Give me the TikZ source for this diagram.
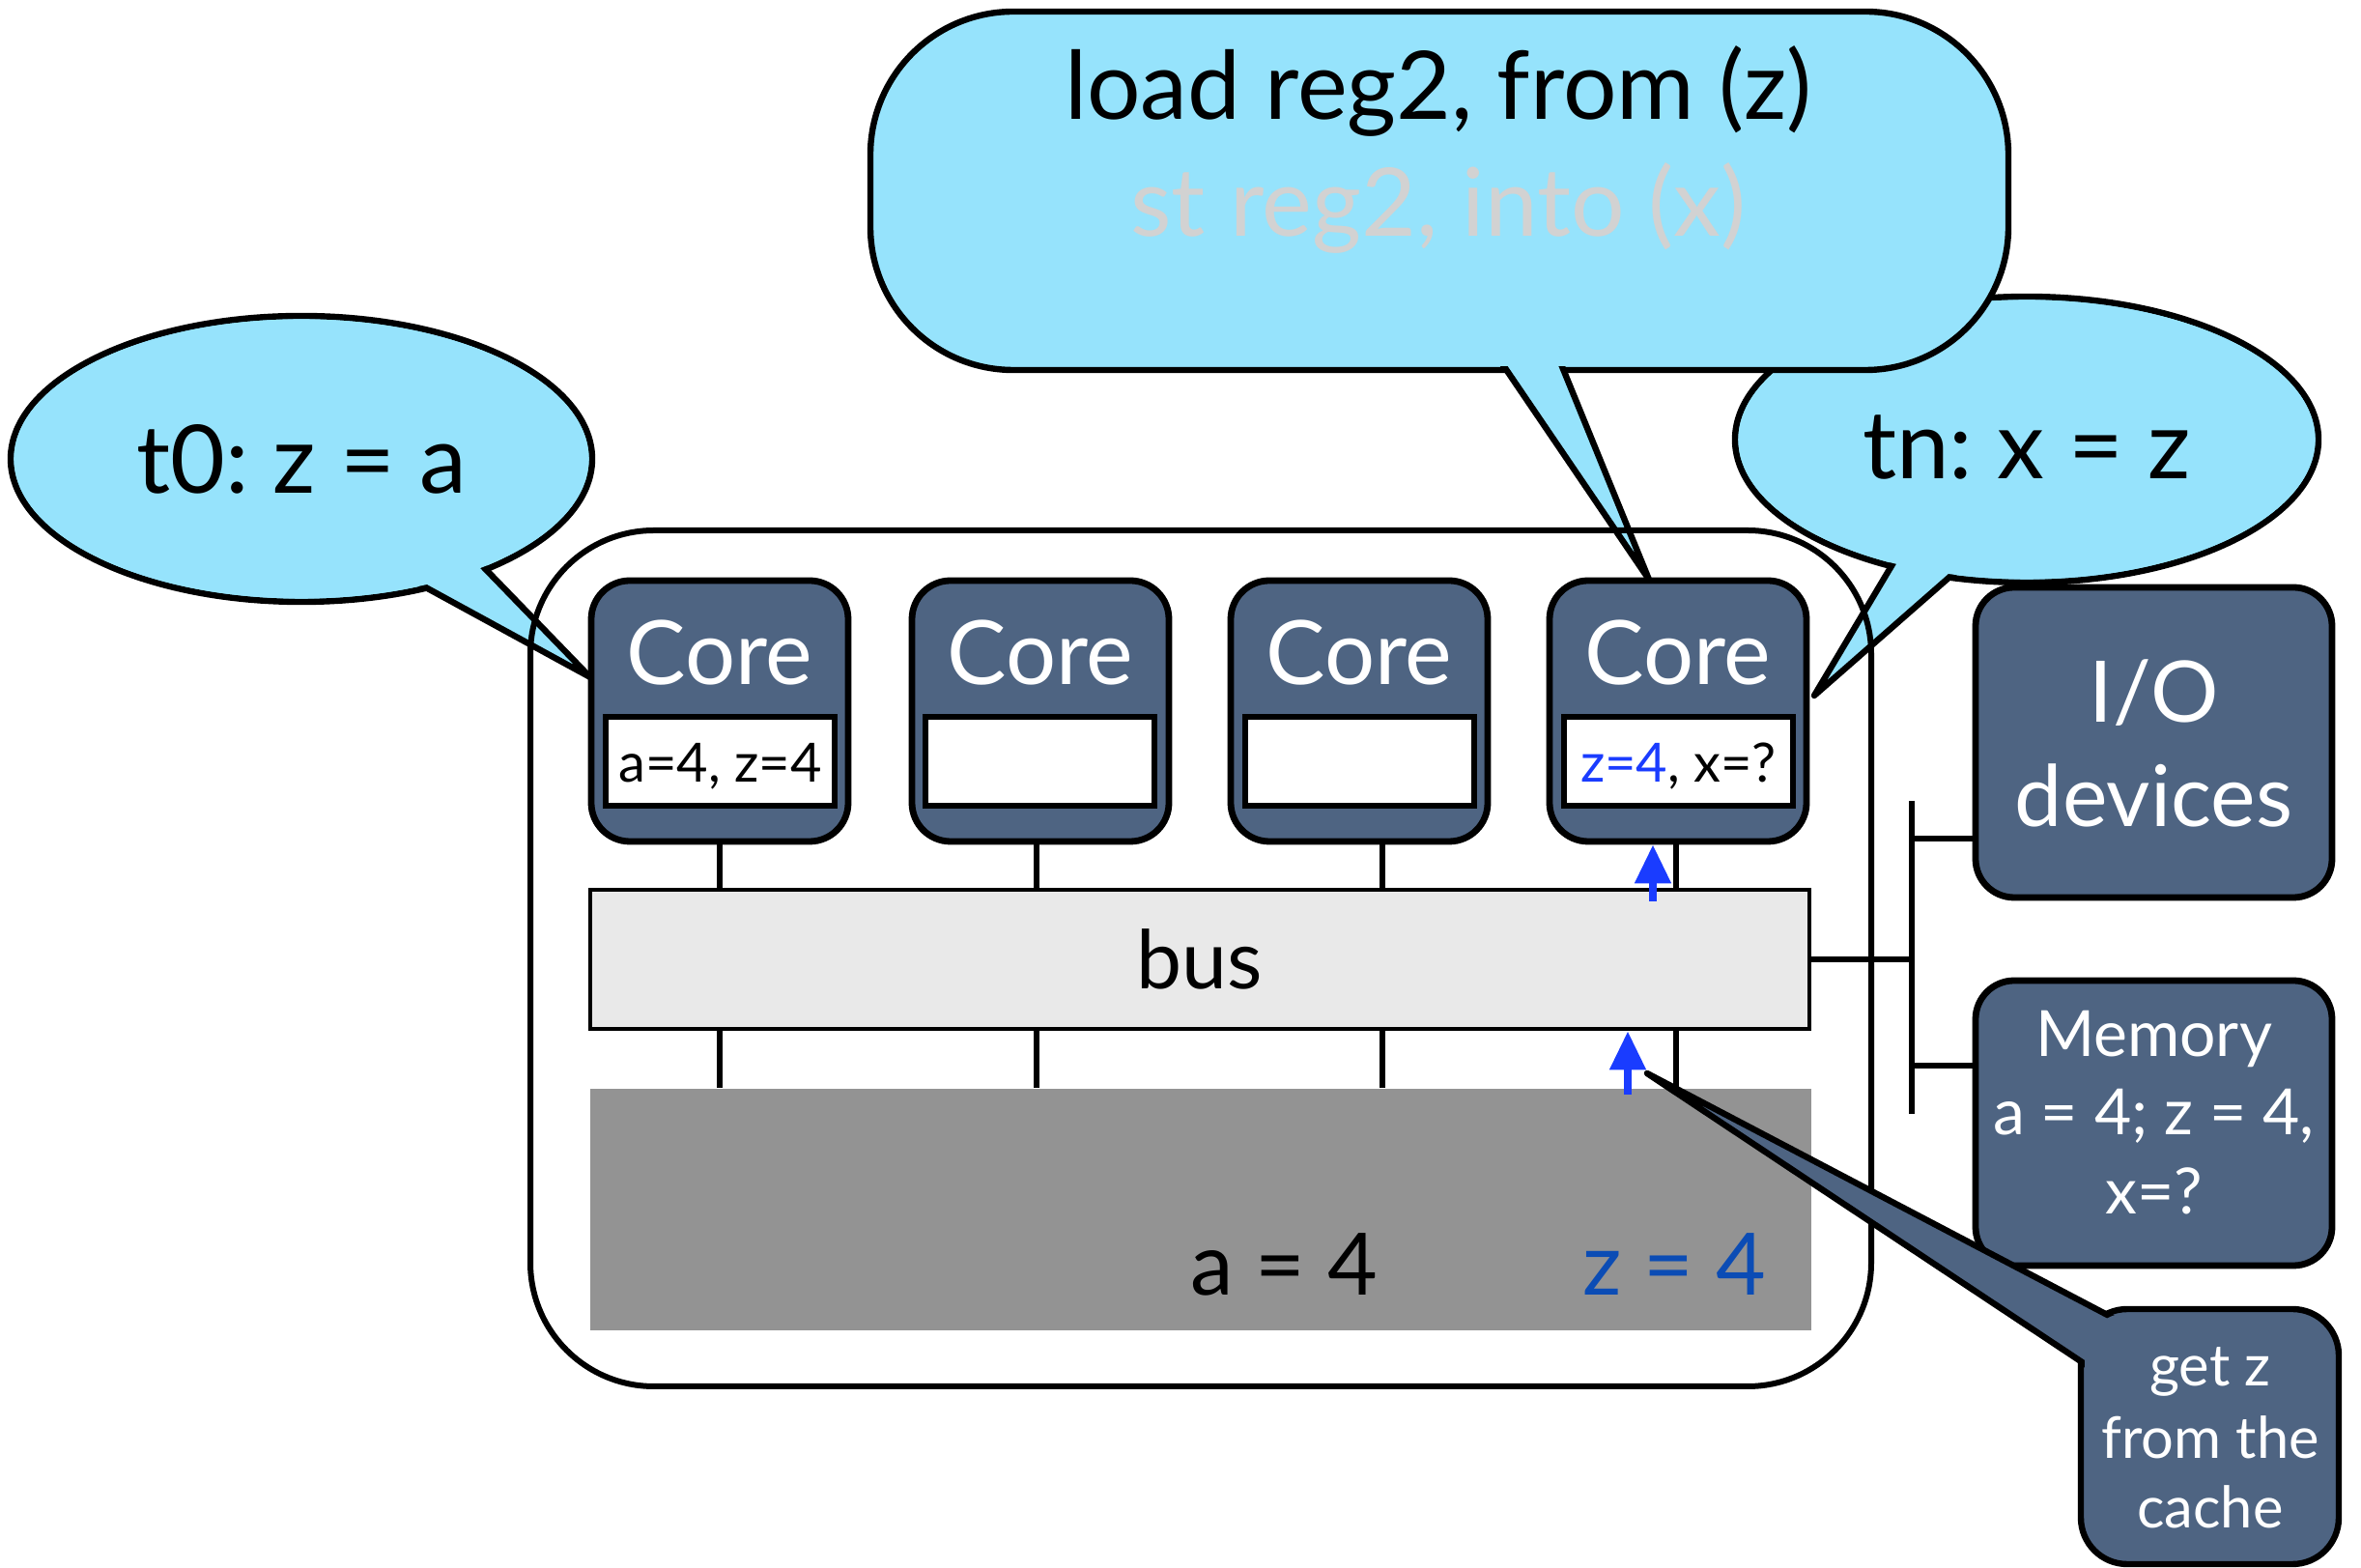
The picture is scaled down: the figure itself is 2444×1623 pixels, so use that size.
\documentclass[tikz,border=0pt]{standalone}
\usepackage{fontspec}
\setmainfont{Lato}
\usetikzlibrary{arrows.meta}
\definecolor{bubble}{HTML}{96E3FC}
\definecolor{slate}{HTML}{4E6482}
\definecolor{busgray}{HTML}{E9E9E9}
\definecolor{cachegray}{HTML}{939393}
\definecolor{ghost}{HTML}{D2D2D2}
\definecolor{hotblue}{HTML}{1A3CFF}
\definecolor{deepblue}{HTML}{0B4CB5}
\newcommand\fsz[2]{\fontsize{#1}{#2}\selectfont}

\begin{document}
\begin{tikzpicture}[x=0.25pt,y=-0.25pt,
  edge/.style={draw=black, line width=1.6pt, line join=round},
  slatebox/.style={draw=black, line width=1.7pt, fill=slate, rounded corners=10pt, inner sep=0pt},
  corebox/.style={slatebox, minimum width=66.5pt, minimum height=67.5pt},
  regbox/.style={draw=black, line width=1.5pt, fill=white, minimum width=59.25pt, minimum height=23pt, inner sep=0pt},
  regtext/.style={font=\fsz{14pt}{17pt}, anchor=base, inner sep=0pt},
  coretext/.style={font=\fsz{23pt}{28pt}, text=white, anchor=base, inner sep=0pt},
  iotext/.style={font=\fsz{22pt}{27pt}, text=white, anchor=base, inner sep=0pt},
  memtext/.style={font=\fsz{16.5pt}{20pt}, text=white, anchor=base, inner sep=0pt},
  notetext/.style={font=\fsz{14.9pt}{18pt}, text=white, anchor=base, inner sep=0pt},
  wire/.style={draw=black, line width=1.6pt},
  bluearrow/.style={draw=hotblue, line width=2pt, -{Triangle[width=9pt,length=10pt]}},
  bigtext/.style={font=\fsz{24.5pt}{30pt}, anchor=base, inner sep=0pt},
]
\useasboundingbox (0,0) rectangle (2444,1623);

% ---- speech bubble: tn
\draw[edge, fill=bubble] (2098,455) ellipse [x radius=75.5pt, y radius=37pt];
\draw[edge, fill=bubble] (1968,569) -- (1878,720) -- (2039,579);
\fill[bubble] (2098,455) ellipse [x radius=74.6pt, y radius=36.1pt];
\node[bigtext] (tn) at (2098,496) {tn:\kern-2pt{} x = z};

% ---- speech bubble: instructions
\draw[edge, fill=bubble, rounded corners=37pt] (901,12) rectangle (2079,383);
\draw[edge, fill=bubble] (1537,350) -- (1707,600) -- (1605,350);
\fill[bubble, rounded corners=36pt] (905,16) rectangle (2075,379);
\node[bigtext] (ld1) at (1489,124) {load reg2, from (z)};
\node[bigtext, text=ghost] (ld2) at (1489,245) {st reg2, into (x)};

% ---- speech bubble: t0
\draw[edge, fill=bubble] (312,475) ellipse [x radius=75.25pt, y radius=37pt];
\draw[edge, fill=bubble] (415,594) -- (611,701) -- (486,572);
\fill[bubble] (312,475) ellipse [x radius=74.35pt, y radius=36.1pt];
\node[bigtext] (t0) at (312,511) {t0:\kern-2pt{} z = a};

% ---- chip outline
\draw[line width=1.5pt, rounded corners=32pt] (549,549) rectangle (1937,1435);

% ---- shared cache
\node[fill=cachegray, minimum width=316pt, minimum height=62.5pt, inner sep=0pt] (cache) at (1243,1252) {};
\node[font=\fsz{22.3pt}{27pt}, anchor=base, inner sep=0pt] (ca) at (1329,1341) {a = 4};
\node[font=\fsz{22.3pt}{27pt}, anchor=base, inner sep=0pt, text=deepblue] (cz) at (1733,1341) {z = 4};

% ---- bus
\node[draw=black, line width=1.2pt, fill=busgray, minimum width=315.5pt, minimum height=36pt, inner sep=0pt] (bus) at (1242,993) {};
\node[font=\fsz{21pt}{25pt}, anchor=base, inner sep=0pt] (bustext) at (1242,1024) {bus};

% ---- cores
\node[corebox] (core1) at (745,736) {};
\node[corebox] (core2) at (1077,736) {};
\node[corebox] (core3) at (1407,736) {};
\node[corebox] (core4) at (1737,736) {};
\node[coretext] (c1) at (745,709) {Core};
\node[coretext] (c2) at (1077,709) {Core};
\node[coretext] (c3) at (1407,709) {Core};
\node[coretext] (c4) at (1737,709) {Core};
\node[regbox] (r1) at (745.5,788) {};
\node[regbox] (r2) at (1076.5,788) {};
\node[regbox] (r3) at (1407,788) {};
\node[regbox] (r4) at (1737.5,788) {};
\node[regtext] (r1t) at (745.5,810) {a=4, z=4};
\node[regtext] (r4t) at (1737.5,810) {\textcolor{hotblue}{z=4}, x=?};

% ---- wires between cores, bus and cache
\coordinate (l1) at (745,0);
\coordinate (l2) at (1073,0);
\coordinate (l3) at (1431,0);
\coordinate (l4) at (1735,0);
\foreach \i in {1,...,4} {
  \draw[wire] (l\i |- core\i.south) -- (l\i |- bus.north);
  \draw[wire] (l\i |- bus.south) -- (l\i |- cache.north);
}

% ---- I/O devices and memory
\node[slatebox, minimum width=92.25pt, minimum height=80.25pt] (io) at (2229.5,768.5) {};
\node[iotext] (io1) at (2229.5,748) {I/O};
\node[iotext] (io2) at (2229.5,856) {devices};
\node[slatebox, minimum width=92.25pt, minimum height=73.75pt] (mem) at (2229.5,1162.5) {};
\node[memtext] (m1) at (2229.5,1094) {Memory};
\node[memtext] (m2) at (2229.5,1175) {a = 4; z = 4,};
\node[memtext] (m3) at (2229.5,1257) {x=?};

\coordinate (vt) at (1979,829);
\coordinate (vb) at (1979,1153);
\coordinate (jio) at (1979,868);
\coordinate (jmem) at (1979,1103);
\draw[wire] (vt) -- (vb);
\draw[wire] (bus.east) -- (bus.east -| vt);
\draw[wire] (jio) -- (jio -| io.west);
\draw[wire] (jmem) -- (jmem -| mem.west);

% ---- note: get z from the cache
\draw[edge, fill=slate, rounded corners=12pt] (2154,1355) rectangle (2421,1619);
\draw[edge, fill=slate] (2231,1387) -- (1705,1111) -- (2199,1439);
\fill[slate, rounded corners=11.2pt] (2158,1359) rectangle (2417,1615);
\node[notetext] (g1) at (2288,1435) {get z};
\node[notetext] (g2) at (2288,1510) {from the};
\node[notetext] (g3) at (2288,1582) {cache};

% ---- data movement
\coordinate (ua) at (1711,933);
\coordinate (la) at (1685,1133);
\draw[bluearrow] (ua) -- (ua |- core4.south);
\draw[bluearrow] (la) -- (la |- bus.south);
\end{tikzpicture}
\end{document}
